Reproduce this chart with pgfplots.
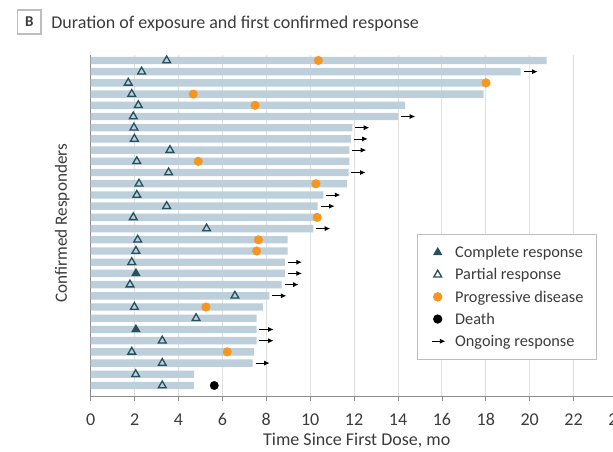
\documentclass[border=0pt]{standalone}
\usepackage{fontspec}
\setmainfont{Carlito}
\usepackage{pgfplots}
\pgfplotsset{compat=1.18}
\usepackage{pgfplotstable}
\usetikzlibrary{arrows.meta}

\definecolor{barblue}{RGB}{188,207,218}
\definecolor{tealmk}{RGB}{38,80,96}
\definecolor{orangemk}{RGB}{247,150,30}
\definecolor{gridgray}{RGB}{224,224,224}
\definecolor{axisgray}{RGB}{140,140,140}
\definecolor{textgray}{RGB}{60,60,60}
\definecolor{boxgray}{RGB}{190,190,190}

\pgfplotstableread{
row end
30 20.77
29 19.59
28 17.92
27 17.90
26 14.33
25 14.01
24 11.92
23 11.85
22 11.78
21 11.78
20 11.75
19 11.68
18 10.60
17 10.34
16 10.32
15 10.14
14 8.97
13 8.97
12 8.85
11 8.85
10 8.70
9 8.14
8 7.84
7 7.56
6 7.56
5 7.56
4 7.45
3 7.38
2 4.71
1 4.71
}\tblbars

\pgfplotstableread{
x y
3.46 30
2.32 29
1.71 28
1.87 27
2.17 26
1.94 25
1.97 24
1.99 23
3.61 22
2.10 21
3.55 20
2.20 19
2.10 18
3.46 17
1.94 16
5.28 15
2.14 14
2.06 13
1.87 12
1.79 10
6.57 9
1.99 8
4.80 7
3.26 5
1.87 4
3.26 3
2.05 2
3.26 1
}\tblpartial

\pgfplotstableread{
x y
2.06 11
2.06 6
}\tblcomplete

\pgfplotstableread{
x y
10.37 30
18.01 28
4.67 27
7.49 26
4.90 21
10.26 19
10.32 16
7.64 14
7.56 13
5.25 8
6.22 4
}\tblprogr

\pgfplotstableread{
x y
5.63 1
}\tbldeath

\pgfplotstableread{
x y u v
19.72 29 0.64 0
14.14 25 0.64 0
12.05 24 0.64 0
11.98 23 0.64 0
11.91 22 0.64 0
11.88 20 0.64 0
10.73 18 0.64 0
10.47 17 0.64 0
10.27 15 0.64 0
8.98 12 0.64 0
8.98 11 0.64 0
8.83 10 0.64 0
8.27 9 0.64 0
7.69 6 0.64 0
7.69 5 0.64 0
7.51 3 0.64 0
}\tblarrows

\pgfplotsset{
  marklegend/.style={legend image code/.code={%
    \path[draw=none, fill=none] (0pt,-4pt) rectangle (16pt,4pt);
    \draw plot coordinates {(7pt,0pt)};}},
}

\begin{document}
\begin{tikzpicture}
\path[use as bounding box, fill=white] (0pt,0pt) rectangle (613pt,-451pt);
\begin{axis}[
  at={(90.7pt,-396.7pt)}, anchor=south west,
  scale only axis, width=526.8pt, height=341.3pt,
  xmin=0, xmax=24, ymin=0, ymax=30.45,
  axis x line*=bottom, axis y line*=left,
  axis line style={axisgray, line width=0.8pt},
  xtick={0,2,...,24}, ytick=\empty,
  tick align=outside, major tick length=4pt,
  x tick style={axisgray, line width=0.8pt},
  xmajorgrids, grid style={gridgray, line width=1pt},
  /pgf/number format/assume math mode=true,
  xticklabel style={font=\fontsize{18}{21}\selectfont, text=textgray, anchor=base, yshift=-25pt},
  xlabel={Time Since First Dose, mo},
  xlabel style={at={(axis description cs:0.505,0)}, anchor=base, yshift=-49pt, font=\fontsize{18}{21}\selectfont, text=textgray},
  ylabel={Confirmed Responders},
  ylabel style={at={(axis description cs:-0.045,0.508)}, anchor=base, font=\fontsize{17.2}{20}\selectfont, text=textgray},
  legend style={at={(axis description cs:0.62,0.4767)}, anchor=north west,
    draw=boxgray, line width=0.8pt, fill=white,
    inner xsep=13pt, inner ysep=10pt, row sep=6.1pt, column sep=8.4pt,
    font=\fontsize{16.3}{18}\selectfont, text=textgray,
    nodes={inner sep=0pt, text height=13.3pt, text depth=2.8pt}},
  legend cell align=left,
]
\addplot[xbar, bar width=7.4pt, fill=barblue, draw=none, forget plot] table[x=end, y=row] {\tblbars};
\addplot[only marks, mark=triangle*, mark size=4.5pt, mark options={draw=tealmk, fill=tealmk, line width=1pt}, marklegend] table[x=x,y=y] {\tblcomplete};
\addlegendentry{Complete response}
\addplot[only marks, mark=triangle, mark size=4.5pt, mark options={draw=tealmk, fill=white, line width=1.3pt}, marklegend] table[x=x,y=y] {\tblpartial};
\addlegendentry{Partial response}
\addplot[only marks, mark=*, mark size=4.3pt, mark options={draw=orangemk, fill=orangemk}, marklegend] table[x=x,y=y] {\tblprogr};
\addlegendentry{Progressive disease}
\addplot[only marks, mark=*, mark size=4.2pt, mark options={draw=black, fill=black}, marklegend] table[x=x,y=y] {\tbldeath};
\addlegendentry{Death}
\addplot[black, line width=0.8pt, -{Latex[length=5.5pt,width=5pt]},
  quiver={u=\thisrow{u}, v=\thisrow{v}},
  legend image code/.code={\path[draw=none, fill=none] (0pt,-4pt) rectangle (16pt,4pt);
    \draw[black, line width=0.8pt, -{Latex[length=5.5pt,width=5pt]}] (1.4pt,0pt) -- (14.7pt,0pt);}]
  table[x=x,y=y] {\tblarrows};
\addlegendentry{Ongoing response}
\end{axis}
\draw[boxgray, line width=1.2pt] (17.5pt,-10pt) rectangle (41pt,-34pt);
\node[font=\fontsize{15}{15}\selectfont\bfseries, text=textgray, inner sep=0pt] at (29.25pt,-22pt) {B};
\node[anchor=base west, inner sep=0pt, font=\fontsize{18}{21}\selectfont, text=textgray] at (51.2pt,-28.3pt) {Duration of exposure and first confirmed response};
\end{tikzpicture}
\end{document}
